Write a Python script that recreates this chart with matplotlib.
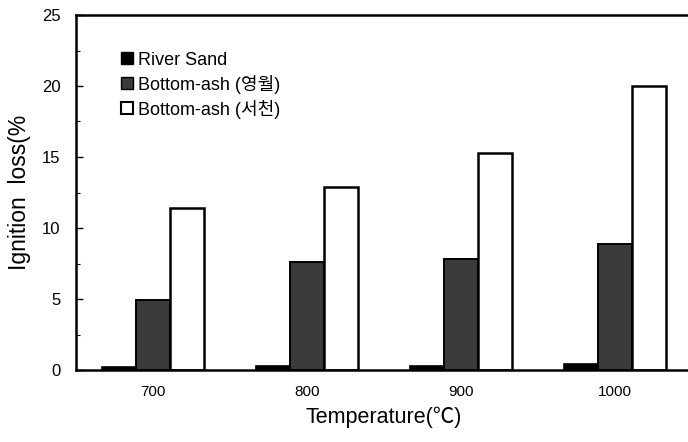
import matplotlib
matplotlib.use('Agg')
import matplotlib.pyplot as plt
import numpy as np
from matplotlib.patches import Patch

# Data
temperatures = ['700', '800', '900', '1000']
river_sand = [0.2, 0.3, 0.3, 0.4]
bottom_ash_yw = [4.9, 7.6, 7.8, 8.9]   # 영월
bottom_ash_sc = [11.4, 12.9, 15.3, 20.0]  # 서천
series_labels = ['River Sand', 'Bottom-ash (영월)', 'Bottom-ash (서천)']

fonts = ['Liberation Sans', 'Noto Sans CJK KR', 'DejaVu Sans']
plt.rcParams['font.family'] = fonts

fig = plt.figure(figsize=(6.88, 4.42), dpi=100)
# axes runs slightly past the right edge, like the cropped original
ax = fig.add_axes([76 / 688, 72 / 442, 616 / 688, 355 / 442])

x = np.arange(len(temperatures))
w = 0.22
ax.bar(x - w, river_sand, w, color='black', edgecolor='black', linewidth=1.2)
ax.bar(x, bottom_ash_yw, w, color='#3a3a3a', edgecolor='black', linewidth=1.4)
ax.bar(x + w, bottom_ash_sc, w, color='white', edgecolor='black', linewidth=1.8)

ax.set_xlim(-0.5, 3.5)
ax.set_ylim(0, 25)
ax.set_yticks([0, 5, 10, 15, 20, 25])
ax.set_yticks(np.arange(0, 25, 2.5), minor=True)
ax.set_xticks(x)
ax.set_xticklabels(temperatures)

ax.tick_params(axis='y', which='major', direction='in', length=5, width=1,
               pad=11, labelsize=12)
ax.tick_params(axis='y', which='minor', direction='in', length=3, width=0.8)
ax.tick_params(axis='x', length=0, pad=11, labelsize=11)

for s in ['left', 'top', 'bottom']:
    ax.spines[s].set_linewidth(1.8)
ax.spines['right'].set_visible(False)

ax.set_ylabel('Ignition  loss(%', fontsize=16.5, labelpad=8)
ax.set_xlabel('Temperature(℃)', fontsize=15.5, labelpad=5)

handles = [
    Patch(facecolor='black', edgecolor='black'),
    Patch(facecolor='#3a3a3a', edgecolor='black'),
    Patch(facecolor='white', edgecolor='black', linewidth=1.5),
]
ax.legend(handles, series_labels, loc='upper left', bbox_to_anchor=(0.073, 0.897),
          frameon=False, fontsize=13, handlelength=0.67, handleheight=0.67,
          handletextpad=0.28, labelspacing=0.33, borderpad=0, borderaxespad=0)

fig.savefig('out.png', dpi=100)
plt.close(fig)
